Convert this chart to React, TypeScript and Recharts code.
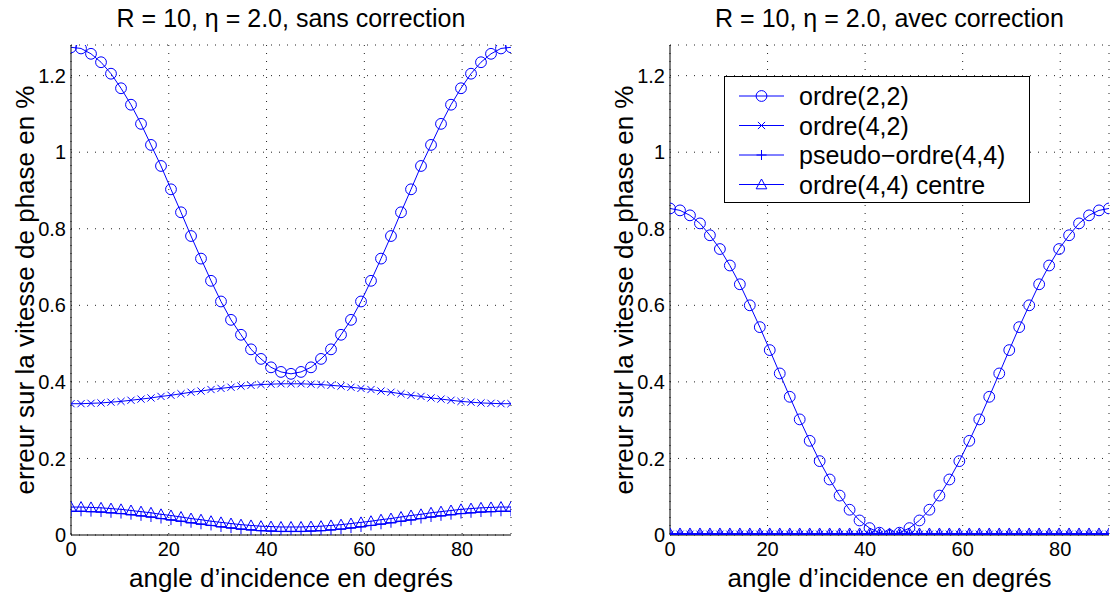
import React from 'react';
import { LineChart, Line, XAxis, YAxis, CartesianGrid } from 'recharts';

const BLUE = '#0000ff';
const FONT = '"Liberation Sans", Arial, Helvetica, sans-serif';

// incidence angles (45 points over 0..90 deg)
const ANGLES = [0, 2.05, 4.09, 6.14, 8.18, 10.23, 12.27, 14.32, 16.36, 18.41, 20.45, 22.5, 24.55, 26.59, 28.64, 30.68,
  32.73, 34.77, 36.82, 38.86, 40.91, 42.95, 45, 47.05, 49.09, 51.14, 53.18, 55.23, 57.27, 59.32, 61.36, 63.41,
  65.45, 67.5, 69.55, 71.59, 73.64, 75.68, 77.73, 79.77, 81.82, 83.86, 85.91, 87.95, 90];

// sans correction
const SANS_22 = [1.274, 1.271, 1.257, 1.235, 1.205, 1.167, 1.124, 1.074, 1.019, 0.964, 0.903, 0.843, 0.781, 0.722, 0.664,
  0.610, 0.562, 0.523, 0.485, 0.460, 0.438, 0.426, 0.421, 0.426, 0.438, 0.460, 0.485, 0.523, 0.562, 0.610, 0.664,
  0.722, 0.781, 0.843, 0.903, 0.964, 1.019, 1.074, 1.124, 1.167, 1.205, 1.235, 1.257, 1.271, 1.274];
const SANS_42 = [0.343, 0.343, 0.344, 0.345, 0.347, 0.349, 0.352, 0.355, 0.358, 0.362, 0.365, 0.369, 0.373, 0.376, 0.380,
  0.383, 0.386, 0.389, 0.391, 0.393, 0.394, 0.395, 0.395, 0.395, 0.394, 0.393, 0.391, 0.389, 0.386, 0.383, 0.380,
  0.376, 0.373, 0.369, 0.365, 0.362, 0.358, 0.355, 0.352, 0.349, 0.347, 0.345, 0.344, 0.343, 0.343];
const SANS_P44 = [0.062, 0.062, 0.061, 0.060, 0.058, 0.056, 0.053, 0.050, 0.047, 0.043, 0.039, 0.036, 0.032, 0.028, 0.025,
  0.021, 0.018, 0.015, 0.013, 0.011, 0.010, 0.009, 0.009, 0.009, 0.010, 0.011, 0.013, 0.015, 0.018, 0.021, 0.025,
  0.028, 0.032, 0.036, 0.039, 0.043, 0.047, 0.050, 0.053, 0.056, 0.058, 0.060, 0.061, 0.062, 0.062];
const SANS_C44 = [0.073, 0.073, 0.072, 0.071, 0.069, 0.067, 0.064, 0.061, 0.058, 0.054, 0.051, 0.047, 0.043, 0.040, 0.036,
  0.033, 0.030, 0.027, 0.025, 0.023, 0.022, 0.021, 0.021, 0.021, 0.022, 0.023, 0.025, 0.027, 0.030, 0.033, 0.036,
  0.040, 0.043, 0.047, 0.051, 0.054, 0.058, 0.061, 0.064, 0.067, 0.069, 0.071, 0.072, 0.073, 0.073];

// avec correction
const AVEC_22 = [0.853, 0.848, 0.835, 0.814, 0.783, 0.747, 0.704, 0.655, 0.600, 0.543, 0.483, 0.422, 0.361, 0.302, 0.246,
  0.193, 0.145, 0.103, 0.066, 0.038, 0.018, 0.006, 0.000, 0.006, 0.018, 0.038, 0.066, 0.103, 0.145, 0.193, 0.246,
  0.302, 0.361, 0.422, 0.483, 0.543, 0.600, 0.655, 0.704, 0.747, 0.783, 0.814, 0.835, 0.848, 0.853];
const AVEC_42 = [0.002, 0.002, 0.002, 0.002, 0.002, 0.002, 0.002, 0.002, 0.002, 0.002, 0.002, 0.002, 0.002, 0.002, 0.002,
  0.002, 0.002, 0.002, 0.002, 0.002, 0.002, 0.002, 0.002, 0.002, 0.002, 0.002, 0.002, 0.002, 0.002, 0.002, 0.002,
  0.002, 0.002, 0.002, 0.002, 0.002, 0.002, 0.002, 0.002, 0.002, 0.002, 0.002, 0.002, 0.002, 0.002];
const AVEC_P44 = [0.001, 0.001, 0.001, 0.001, 0.001, 0.001, 0.001, 0.001, 0.001, 0.001, 0.001, 0.001, 0.001, 0.001, 0.001,
  0.001, 0.001, 0.001, 0.001, 0.001, 0.001, 0.001, 0.001, 0.001, 0.001, 0.001, 0.001, 0.001, 0.001, 0.001, 0.001,
  0.001, 0.001, 0.001, 0.001, 0.001, 0.001, 0.001, 0.001, 0.001, 0.001, 0.001, 0.001, 0.001, 0.001];
const AVEC_C44 = [0.004, 0.004, 0.004, 0.004, 0.004, 0.004, 0.004, 0.004, 0.004, 0.004, 0.004, 0.004, 0.004, 0.004, 0.004,
  0.004, 0.004, 0.004, 0.004, 0.004, 0.004, 0.004, 0.004, 0.004, 0.004, 0.004, 0.004, 0.004, 0.004, 0.004, 0.004,
  0.004, 0.004, 0.004, 0.004, 0.004, 0.004, 0.004, 0.004, 0.004, 0.004, 0.004, 0.004, 0.004, 0.004];

const X_TICKS = [0, 20, 40, 60, 80];
const Y_TICKS = [0, 0.2, 0.4, 0.6, 0.8, 1, 1.2];
const SERIES = ['ordre(2,2)', 'ordre(4,2)', 'pseudo\u2212ordre(4,4)', 'ordre(4,4) centre'];
const TITLES = ['R = 10, \u03b7 = 2.0, sans correction', 'R = 10, \u03b7 = 2.0, avec correction'];
const X_LABEL = 'angle d\u2019incidence en degr\u00e9s';
const Y_LABEL = 'erreur sur la vitesse de phase en %';

const toRows = (a: number[], b: number[], c: number[], d: number[]) =>
  ANGLES.map((x, i) => ({ angle: x, o22: a[i], o42: b[i], p44: c[i], c44: d[i] }));

const sansData = toRows(SANS_22, SANS_42, SANS_P44, SANS_C44);
const avecData = toRows(AVEC_22, AVEC_42, AVEC_P44, AVEC_C44);

type MarkerKind = 'circle' | 'x' | 'plus' | 'tri';

function markerShape(kind: MarkerKind, cx: number, cy: number, key?: string) {
  if (kind === 'circle') return <circle key={key} cx={cx} cy={cy} r={5.4} fill="none" stroke={BLUE} strokeWidth={1} />;
  if (kind === 'x') {
    const s = 3.6;
    return (
      <path key={key} d={`M${cx - s},${cy - s}L${cx + s},${cy + s}M${cx - s},${cy + s}L${cx + s},${cy - s}`} stroke={BLUE} strokeWidth={1} fill="none" />
    );
  }
  if (kind === 'plus') {
    const s = 5;
    return <path key={key} d={`M${cx - s},${cy}L${cx + s},${cy}M${cx},${cy - s}L${cx},${cy + s}`} stroke={BLUE} strokeWidth={1} fill="none" />;
  }
  return (
    <path key={key} d={`M${cx},${cy - 5.5}L${cx + 5.3},${cy + 4.3}L${cx - 5.3},${cy + 4.3}Z`} stroke={BLUE} strokeWidth={1} fill="none" />
  );
}

const makeDot = (kind: MarkerKind) => (props: any) => {
  const { cx, cy, index } = props;
  if (cx == null || cy == null) return <g key={`n${index}`} />;
  return markerShape(kind, cx, cy, `${kind}${index}`);
};

const KEYS: { key: string; kind: MarkerKind }[] = [
  { key: 'o22', kind: 'circle' },
  { key: 'o42', kind: 'x' },
  { key: 'p44', kind: 'plus' },
  { key: 'c44', kind: 'tri' },
];

const fmtY = (v: number) => (v === 0 ? '0' : v === 1 ? '1' : String(v));

function Panel({ data, left, width, marginRight, title }: { data: any[]; left: number; width: number; marginRight: number; title: string }) {
  const plotLeft = left + 71;
  const plotRight = left + width - marginRight;
  const center = (plotLeft + plotRight) / 2;
  return (
    <>
      <div style={{ position: 'absolute', left, top: 0 }}>
        <LineChart width={width} height={597} data={data} margin={{ top: 45, right: marginRight, bottom: 0, left: 0 }}>
          <CartesianGrid stroke="#222" strokeDasharray="1 7" strokeWidth={1} />
          <XAxis
            dataKey="angle"
            type="number"
            domain={[0, 90]}
            ticks={X_TICKS}
            height={62}
            tickLine={false}
            tickSize={0}
            tickMargin={7}
            axisLine={{ stroke: '#000', strokeWidth: 1 }}
            tick={{ fill: '#000', fontSize: 20, fontFamily: FONT }}
            allowDataOverflow
          />
          <YAxis
            type="number"
            domain={[0, 1.28]}
            ticks={Y_TICKS}
            width={71}
            tickLine={false}
            tickSize={0}
            tickMargin={5}
            tickFormatter={fmtY}
            axisLine={{ stroke: '#000', strokeWidth: 1 }}
            tick={{ fill: '#000', fontSize: 20, fontFamily: FONT }}
            allowDataOverflow
          />
          {KEYS.map(k => (
            <Line
              key={k.key}
              type="linear"
              dataKey={k.key}
              stroke={BLUE}
              strokeWidth={1}
              dot={makeDot(k.kind)}
              activeDot={false}
              isAnimationActive={false}
            />
          ))}
        </LineChart>
      </div>
      <div style={{ position: 'absolute', left: center - 250, width: 500, top: 0, height: 36, lineHeight: '36px', textAlign: 'center', fontSize: 25, fontFamily: FONT, color: '#000', whiteSpace: 'nowrap' }}>
        {title}
      </div>
      <div style={{ position: 'absolute', left: center - 250, width: 500, top: 560, height: 36, lineHeight: '36px', textAlign: 'center', fontSize: 26, fontFamily: FONT, color: '#000', whiteSpace: 'nowrap' }}>
        {X_LABEL}
      </div>
      <div
        style={{
          position: 'absolute',
          left: left + 25 - 260,
          top: 290 - 16,
          width: 520,
          height: 32,
          lineHeight: '32px',
          textAlign: 'center',
          fontSize: 26,
          fontFamily: FONT,
          color: '#000',
          transform: 'rotate(-90deg)',
          whiteSpace: 'nowrap',
        }}
      >
        {Y_LABEL}
      </div>
    </>
  );
}

function LegendBox() {
  const rowH = 29.5;
  return (
    <div
      style={{
        position: 'absolute',
        left: 724,
        top: 76,
        width: 306,
        height: 127,
        border: '1.3px solid #000',
        background: '#fff',
        boxSizing: 'border-box',
      }}
    >
      <svg width={70} height={126} style={{ position: 'absolute', left: 0, top: 0 }}>
        {KEYS.map((k, i) => {
          const y = 19 + i * rowH;
          return (
            <g key={k.key}>
              <line x1={14} x2={59} y1={y} y2={y} stroke={BLUE} strokeWidth={1} />
              {markerShape(k.kind, 36.5, y)}
            </g>
          );
        })}
      </svg>
      {SERIES.map((s, i) => (
        <div
          key={s}
          style={{
            position: 'absolute',
            left: 74,
            top: 19 + i * rowH - 16,
            height: 32,
            lineHeight: '32px',
            fontSize: 25,
            fontFamily: FONT,
            color: '#000',
            whiteSpace: 'nowrap',
          }}
        >
          {s}
        </div>
      ))}
    </div>
  );
}

export default function App() {
  return (
    <div style={{ position: 'absolute', left: 0, top: 0, width: 1116, height: 597, background: '#fff', overflow: 'hidden' }}>
      <Panel data={sansData} left={0} width={558} marginRight={47} title={TITLES[0]} />
      <Panel data={avecData} left={599} width={517} marginRight={7} title={TITLES[1]} />
      <LegendBox />
    </div>
  );
}
